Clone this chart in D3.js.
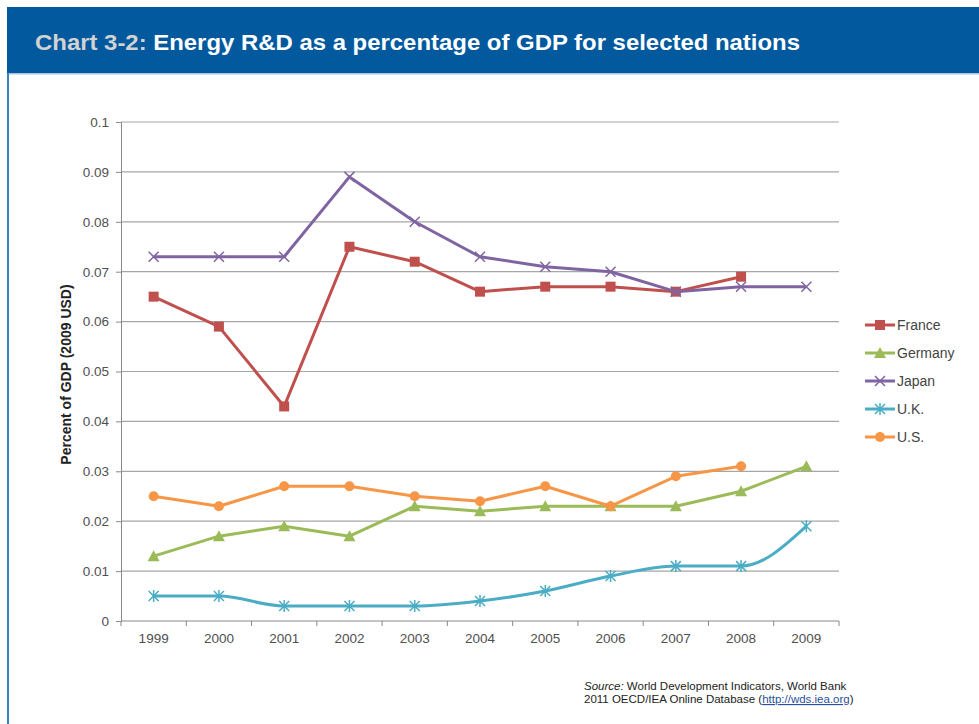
<!DOCTYPE html>
<head>
<title>Energy R&amp;D as a percentage of GDP</title>
<meta charset="utf-8">
<style>
body { margin: 0; background: #fff; }
svg { display: block; font-family: "Liberation Sans", Arial, sans-serif; }
.tick text { font-size: 13.5px; fill: #505050; }
.line { fill: none; stroke-width: 3px; stroke-linejoin: round; }
</style>
</head>
<body>
<svg width="979" height="724"></svg>
<script src="https://cdn.jsdelivr.net/npm/d3@7"></script>
<script>
/* global d3 */
const years = ["1999","2000","2001","2002","2003","2004","2005","2006","2007","2008","2009"];
const yTicks = [0, 0.01, 0.02, 0.03, 0.04, 0.05, 0.06, 0.07, 0.08, 0.09, 0.1];
const france  = [0.065, 0.059, 0.043, 0.075, 0.072, 0.066, 0.067, 0.067, 0.066, 0.069, null];
const germany = [0.013, 0.017, 0.019, 0.017, 0.023, 0.022, 0.023, 0.023, 0.023, 0.026, 0.031];
const japan   = [0.073, 0.073, 0.073, 0.089, 0.080, 0.073, 0.071, 0.070, 0.066, 0.067, 0.067];
const uk      = [0.005, 0.005, 0.003, 0.003, 0.003, 0.004, 0.006, 0.009, 0.011, 0.011, 0.019];
const us      = [0.025, 0.023, 0.027, 0.027, 0.025, 0.024, 0.027, 0.023, 0.029, 0.031, null];

const series = [
  {name: "France",  values: france,  color: "#c0504d", marker: "square",   smooth: false},
  {name: "Germany", values: germany, color: "#9bbb59", marker: "triangle", smooth: false},
  {name: "Japan",   values: japan,   color: "#8064a2", marker: "cross",    smooth: false},
  {name: "U.K.",    values: uk,      color: "#4bacc6", marker: "star",     smooth: true},
  {name: "U.S.",    values: us,      color: "#f79646", marker: "circle",   smooth: false}
];

const svg = d3.select("svg");

// header band
svg.append("rect").attr("x", 7).attr("y", 7).attr("width", 972).attr("height", 66).attr("fill", "#02599e");
svg.append("rect").attr("x", 7).attr("y", 73).attr("width", 972).attr("height", 1.5).attr("fill", "#a8c3df");
svg.append("rect").attr("x", 7).attr("y", 73).attr("width", 2).attr("height", 651).attr("fill", "#3b7dc1");

const title = svg.append("text").attr("x", 35).attr("y", 50)
  .style("font-size", "22px").style("font-weight", "bold")
  .attr("textLength", 765).attr("lengthAdjust", "spacingAndGlyphs");
title.append("tspan").attr("fill", "#d2d2d2").text("Chart 3-2: ");
title.append("tspan").attr("fill", "#fff").text("Energy R&D as a percentage of GDP for selected nations");

const plotL = 121, plotR = 839, plotT = 122, plotB = 621;

const x = d3.scaleBand().domain(years).range([plotL, plotR]);
const y = d3.scaleLinear().domain([0, 0.1]).range([plotB, plotT]);

// gridlines
svg.append("g").selectAll("line").data(yTicks.slice(1)).join("line")
  .attr("x1", plotL).attr("x2", plotR)
  .attr("y1", d => y(d)).attr("y2", d => y(d))
  .attr("stroke", "#a6a6a6").attr("stroke-width", 1.2);

// y axis
const yAxis = svg.append("g").attr("transform", `translate(${plotL},0)`)
  .call(d3.axisLeft(y).tickValues(yTicks).tickSize(5).tickPadding(7).tickFormat(d => String(+d.toFixed(2))));
yAxis.selectAll("path, line").attr("stroke", "#888");

// x axis with ticks at band edges
const xAxis = svg.append("g").attr("transform", `translate(0,${plotB})`)
  .call(d3.axisBottom(x).tickSize(0).tickPadding(12));
xAxis.select(".domain").attr("stroke", "#888").attr("d", `M${plotL},0H${plotR}`);
xAxis.selectAll(".edge").data(years.map(d => x(d)).concat([plotR])).join("line")
  .attr("class", "edge").attr("x1", d => d).attr("x2", d => d)
  .attr("y1", 0).attr("y2", 5).attr("stroke", "#888");

svg.append("text")
  .attr("transform", `translate(71,${(plotT + plotB) / 2 + 3}) rotate(-90)`)
  .attr("text-anchor", "middle")
  .style("font-size", "14px").style("font-weight", "bold").attr("fill", "#222")
  .text("Percent of GDP (2009 USD)");

const cx = (d, i) => x(years[i]) + x.bandwidth() / 2;

function drawMarker(g, type, color) {
  if (type === "square") {
    g.append("rect").attr("x", -5).attr("y", -5).attr("width", 10).attr("height", 10).attr("fill", color);
  } else if (type === "triangle") {
    g.append("path").attr("d", "M0,-6L6,5L-6,5Z").attr("fill", color);
  } else if (type === "circle") {
    g.append("circle").attr("r", 5).attr("fill", color);
  } else if (type === "cross") {
    g.append("path").attr("d", "M-5,-5L5,5M-5,5L5,-5").attr("stroke", color).attr("stroke-width", 1.5);
  } else if (type === "star") {
    g.append("path").attr("d", "M-5,-5L5,5M-5,5L5,-5M0,-6V6").attr("stroke", color).attr("stroke-width", 1.5);
  }
}

series.forEach(s => {
  const line = d3.line()
    .defined(d => d != null)
    .x(cx)
    .y(d => y(d))
    .curve(s.smooth ? d3.curveMonotoneX : d3.curveLinear);
  svg.append("path").datum(s.values).attr("class", "line")
    .attr("stroke", s.color).attr("d", line);
  svg.append("g").selectAll("g").data(s.values.map((v, i) => [v, i]).filter(p => p[0] != null)).join("g")
    .attr("transform", p => `translate(${cx(p[0], p[1])},${y(p[0])})`)
    .each(function () { drawMarker(d3.select(this), s.marker, s.color); });
});

// legend
const legend = svg.append("g").attr("transform", "translate(865,325)");
series.forEach((s, i) => {
  const g = legend.append("g").attr("transform", `translate(0,${i * 28})`);
  g.append("line").attr("x1", 0).attr("x2", 30).attr("stroke", s.color).attr("stroke-width", 3);
  drawMarker(g.append("g").attr("transform", "translate(15,0)"), s.marker, s.color);
  g.append("text").attr("x", 32).attr("y", 5).style("font-size", "14px").attr("fill", "#444").text(s.name);
});

// source note
const src = svg.append("text").attr("x", 584).attr("y", 690).style("font-size", "11.5px").attr("fill", "#222");
src.append("tspan").style("font-style", "italic").text("Source:");
src.append("tspan").text(" World Development Indicators, World Bank");
const src2 = svg.append("text").attr("x", 584).attr("y", 703).style("font-size", "11.5px").attr("fill", "#222");
src2.append("tspan").text("2011 OECD/IEA Online Database (");
src2.append("tspan").attr("fill", "#2a4fa0").style("text-decoration", "underline").text("http://wds.iea.org");
src2.append("tspan").text(")");
</script>
</body>
